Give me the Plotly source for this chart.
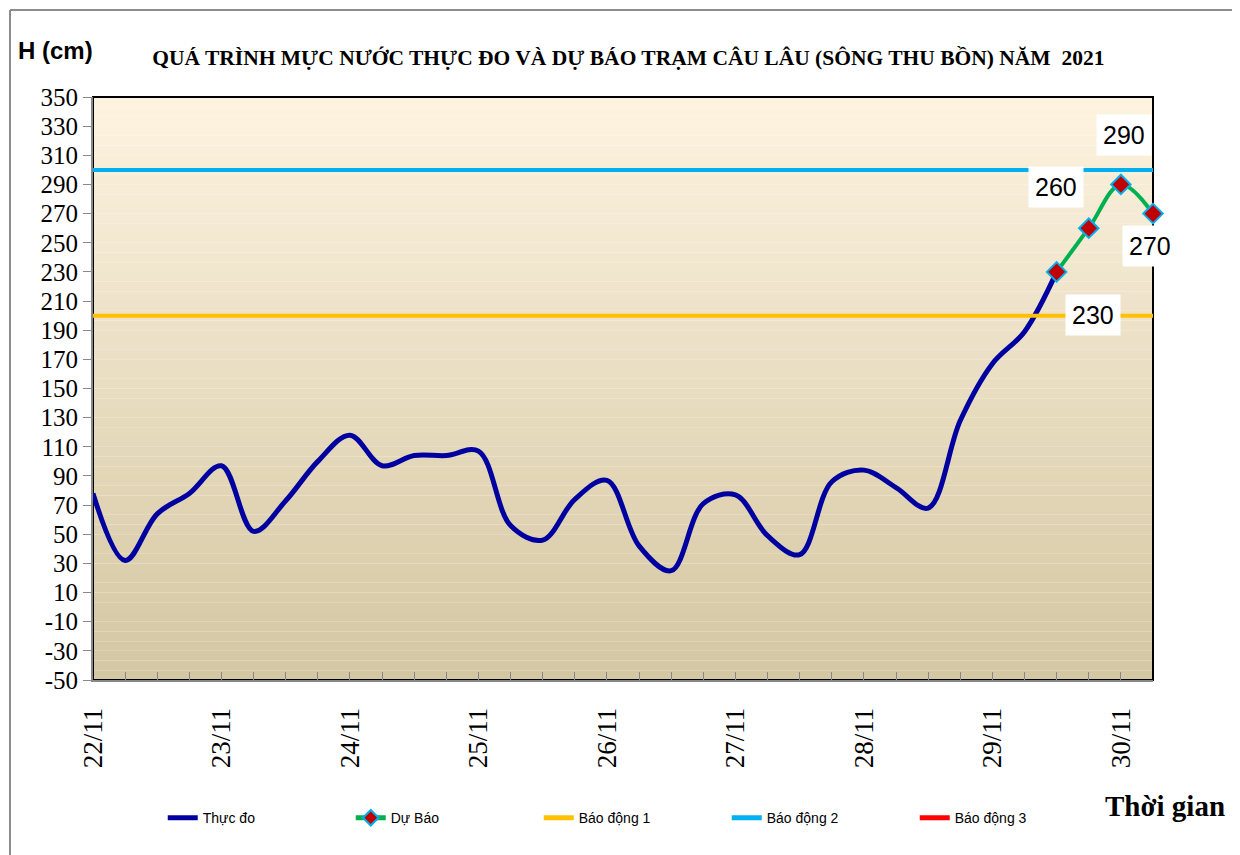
import plotly.graph_objects as go

# ---------------- data ----------------
day_labels = ["22/11", "23/11", "24/11", "25/11", "26/11", "27/11", "28/11", "29/11", "30/11"]
steps_per_day = 4  # observations every 6 hours

observed = [78, 32, 64, 78, 97, 52, 73, 100, 118, 97, 104, 104, 107, 56, 46, 74, 87,
            42, 25, 71, 77, 49, 36, 86, 94, 82, 68, 128, 167, 189, 230]
forecast_start = 30
forecast = [230, 260, 290, 270]

alarm_levels = [200, 300, 400]
alarm_names = ["Báo động 1", "Báo động 2", "Báo động 3"]
alarm_colors = ["#FFC000", "#00B0F0", "#FF0000"]

y_ticks = list(range(-50, 351, 20))

# label offsets for forecast data labels (pixels)
label_shift = [(36, -43), (-33, 41), (3, 49), (-3, -32)]

# ---------------- figure ----------------
n_points = forecast_start + len(forecast)
x_obs = list(range(len(observed)))
x_fc = list(range(forecast_start, forecast_start + len(forecast)))

fig = go.Figure()

fig.add_trace(go.Scatter(
    x=x_obs, y=observed, name="Thực đo", mode="lines",
    line=dict(color="#0000A0", width=5, shape="spline", smoothing=1.0),
))
fig.add_trace(go.Scatter(
    x=x_fc, y=forecast, name="Dự Báo", mode="lines+markers", cliponaxis=False,
    line=dict(color="#00B050", width=4, shape="spline", smoothing=1.0),
    marker=dict(symbol="diamond", size=15, color="#C00000",
                line=dict(color="#00B0F0", width=2)),
))
for lvl, nm, col in zip(alarm_levels, alarm_names, alarm_colors):
    fig.add_trace(go.Scatter(
        x=[0, n_points - 1], y=[lvl, lvl], name=nm, mode="lines",
        line=dict(color=col, width=4),
    ))

# gradient background for plot area
shapes = []
n_strips = 60
top = (253, 243, 223)
bot = (212, 199, 163)
for k in range(n_strips):
    t = k / (n_strips - 1)
    c = tuple(round(top[j] + (bot[j] - top[j]) * t) for j in range(3))
    shapes.append(dict(type="rect", xref="x domain", yref="y domain",
                       x0=0, x1=1, y0=1 - (k + 1) / n_strips, y1=1 - k / n_strips,
                       fillcolor="rgb(%d,%d,%d)" % c, line=dict(width=0), layer="below"))
# plot frame
shapes.append(dict(type="rect", xref="x domain", yref="y domain", x0=0, x1=1, y0=0, y1=1,
                   line=dict(color="black", width=2), layer="below"))
# outer chart border (left and top)
shapes.append(dict(type="line", xref="paper", yref="paper", x0=-0.0783, x1=-0.0783,
                   y0=1.1492, y1=-0.5, line=dict(color="#8C8C8C", width=2)))
shapes.append(dict(type="line", xref="paper", yref="paper", x0=-0.0783, x1=1.2,
                   y0=1.1492, y1=1.1492, line=dict(color="#8C8C8C", width=2)))

annotations = []
for xi, v, (dx, dy) in zip(x_fc, forecast, label_shift):
    annotations.append(dict(x=xi, y=v, xref="x", yref="y", text=str(v), showarrow=False,
                            xshift=dx, yshift=dy, bgcolor="white", borderpad=6,
                            xanchor="center", yanchor="middle",
                            font=dict(family="Liberation Sans", size=25, color="black")))
annotations.append(dict(x=-0.0358, y=1.0806, xref="paper", yref="paper", text="<b>H (cm)</b>",
                        showarrow=False, xanchor="center", yanchor="middle",
                        font=dict(family="Liberation Sans", size=24, color="black")))
annotations.append(dict(x=1.0113, y=-0.216, xref="paper", yref="paper", text="<b>Thời gian</b>",
                        showarrow=False, xanchor="center", yanchor="middle",
                        font=dict(family="Liberation Serif", size=29, color="black")))

tickvals = list(range(n_points))
ticktext = [day_labels[i // steps_per_day] if i % steps_per_day == 0 and i // steps_per_day < len(day_labels) else ""
            for i in tickvals]

fig.update_layout(
    width=1240, height=855,
    margin=dict(l=85, r=95, t=89, b=183),
    paper_bgcolor="white", plot_bgcolor="rgba(0,0,0,0)",
    title=dict(text="<b>QUÁ TRÌNH MỰC NƯỚC THỰC ĐO VÀ DỰ BÁO TRẠM CÂU LÂU (SÔNG THU BỒN) NĂM  2021</b>",
               x=0.505, xref="paper", xanchor="center", y=1 - 49 / 855, yanchor="middle",
               font=dict(family="Liberation Serif", size=21.5, color="black")),
    shapes=shapes, annotations=annotations,
    showlegend=True,
    legend=dict(orientation="h", x=0.0658, xanchor="left", y=-0.237, yanchor="middle",
                font=dict(family="Liberation Sans", size=14, color="black"),
                itemsizing="constant",
                entrywidth=143, entrywidthmode="pixels", bgcolor="rgba(0,0,0,0)"),
    xaxis=dict(range=[0, n_points - 1], tickmode="array", tickvals=tickvals, ticktext=ticktext,
               tickangle=-90, ticks="inside", ticklen=8, tickcolor="#888888",
               showgrid=False, zeroline=False, showline=True, linecolor="#888888", linewidth=2,
               tickfont=dict(family="Liberation Serif", size=27, color="black"),
               ticklabelstandoff=15),
    yaxis=dict(range=[-50, 350], tickmode="array", tickvals=y_ticks,
               ticktext=[str(v) for v in y_ticks],
               ticks="outside", ticklen=8, tickcolor="#888888",
               showgrid=False, zeroline=False, showline=True, linecolor="#888888", linewidth=2,
               tickfont=dict(family="Liberation Serif", size=25, color="black")),
)

fig.write_html("out.html")
